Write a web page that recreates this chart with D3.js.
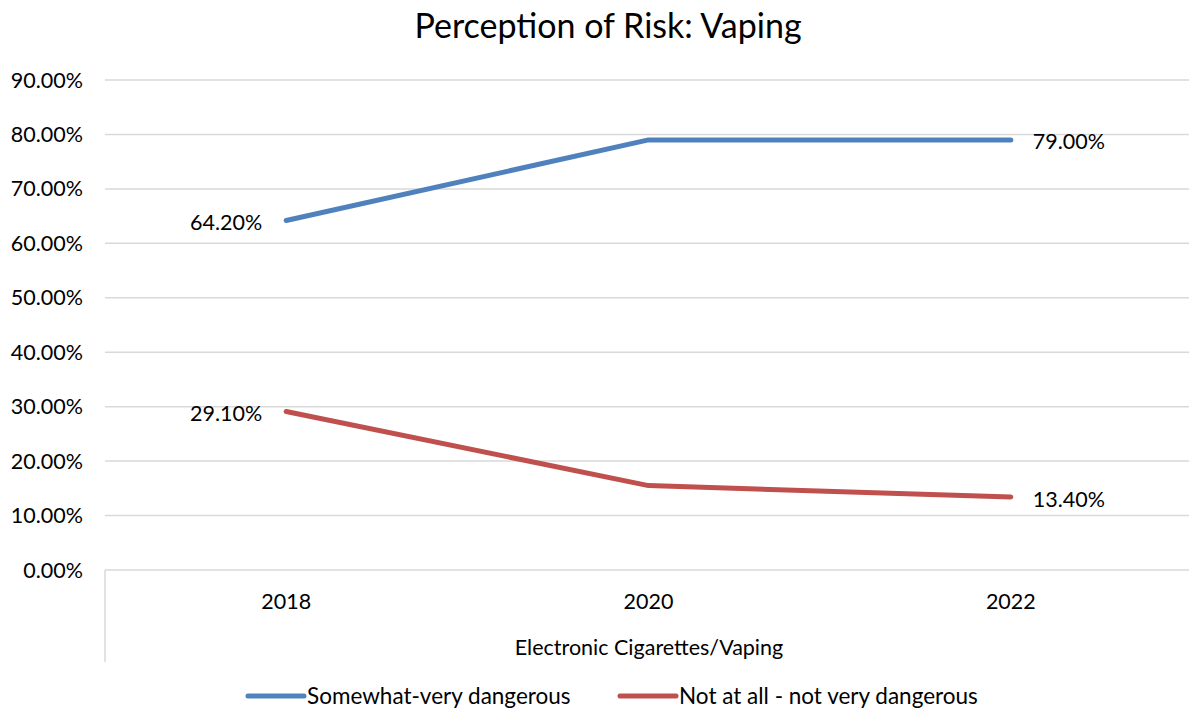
<!DOCTYPE html>
<html>
<head>
<meta charset="utf-8">
<script src="https://cdn.jsdelivr.net/npm/d3@7"></script>
<style>
  html, body { margin: 0; padding: 0; background: #fff; }
  svg { display: block; font-family: Lato, "Open Sans", sans-serif; }
</style>
</head>
<body>
<svg id="chart" width="1189" height="713"></svg>
<script>
// Chart data
const years = ["2018", "2020", "2022"];
const groupLabel = "Electronic Cigarettes/Vaping";
const seriesNames = ["Somewhat-very dangerous", "Not at all - not very dangerous"];
const somewhatVery = [64.2, 79.0, 79.0];
const notAtAll = [29.1, 15.5, 13.4];
const yTicks = [0, 10, 20, 30, 40, 50, 60, 70, 80, 90];
const seriesColors = ["#4F81BD", "#C0504D"];
// points that carry a value label
const labelIdx = [0, 2];

(function () {
  const svg = d3.select("#chart");
  const plotLeft = 105, plotRight = 1192, plotTop = 80, plotBottom = 570;
  const fs = 21.5;

  const x = d3.scaleBand().domain(years).range([plotLeft, plotRight]);
  const y = d3.scaleLinear().domain([0, 90]).range([plotBottom, plotTop]);
  const fmt = v => v.toFixed(2) + "%";

  // Title
  svg.append("text")
    .attr("x", 608).attr("y", 38)
    .attr("text-anchor", "middle")
    .attr("font-size", 34)
    .attr("fill", "#000")
    .text("Perception of Risk: Vaping");

  // Gridlines
  svg.append("g")
    .selectAll("line")
    .data(yTicks)
    .join("line")
    .attr("x1", plotLeft).attr("x2", plotRight)
    .attr("y1", d => y(d)).attr("y2", d => y(d))
    .attr("stroke", "#d9d9d9").attr("stroke-width", 1.5);

  // Y axis labels
  svg.append("g")
    .selectAll("text")
    .data(yTicks)
    .join("text")
    .attr("x", 83).attr("y", d => y(d))
    .attr("dy", "0.35em")
    .attr("text-anchor", "end")
    .attr("font-size", fs)
    .attr("fill", "#000")
    .text(d => fmt(d));

  // Left boundary line of the multi-level category axis
  svg.append("line")
    .attr("x1", plotLeft).attr("x2", plotLeft)
    .attr("y1", plotBottom).attr("y2", 662)
    .attr("stroke", "#d9d9d9").attr("stroke-width", 1.5);

  svg.append("g")
    .selectAll("text")
    .data(years)
    .join("text")
    .attr("x", d => x(d) + x.bandwidth() / 2)
    .attr("y", 609)
    .attr("text-anchor", "middle")
    .attr("font-size", fs)
    .attr("fill", "#000")
    .text(d => d);

  svg.append("text")
    .attr("x", 649)
    .attr("y", 655)
    .attr("text-anchor", "middle")
    .attr("font-size", fs)
    .attr("fill", "#000")
    .text(groupLabel);

  // Lines
  const series = [somewhatVery, notAtAll];
  const line = d3.line()
    .x((d, i) => x(years[i]) + x.bandwidth() / 2)
    .y(d => y(d));

  series.forEach((vals, s) => {
    svg.append("path")
      .datum(vals)
      .attr("d", line)
      .attr("fill", "none")
      .attr("stroke", seriesColors[s])
      .attr("stroke-width", 5)
      .attr("stroke-linecap", "round")
      .attr("stroke-linejoin", "round");

    labelIdx.forEach(i => {
      const px = x(years[i]) + x.bandwidth() / 2;
      const isLeft = i === 0;
      svg.append("text")
        .attr("x", isLeft ? px - 24 : px + 22)
        .attr("y", y(vals[i]) + 2)
        .attr("dy", "0.35em")
        .attr("text-anchor", isLeft ? "end" : "start")
        .attr("font-size", fs)
        .attr("fill", "#000")
        .text(fmt(vals[i]));
    });
  });

  // Legend
  const legendItems = [
    { x0: 248, name: seriesNames[0], color: seriesColors[0] },
    { x0: 620, name: seriesNames[1], color: seriesColors[1] }
  ];
  const lg = svg.append("g");
  legendItems.forEach(it => {
    lg.append("line")
      .attr("x1", it.x0).attr("x2", it.x0 + 56)
      .attr("y1", 696).attr("y2", 696)
      .attr("stroke", it.color).attr("stroke-width", 5)
      .attr("stroke-linecap", "round");
    lg.append("text")
      .attr("x", it.x0 + 59).attr("y", 696)
      .attr("dy", "0.35em")
      .attr("font-size", 22.5)
      .attr("fill", "#000")
      .text(it.name);
  });
})();
</script>
</body>
</html>
